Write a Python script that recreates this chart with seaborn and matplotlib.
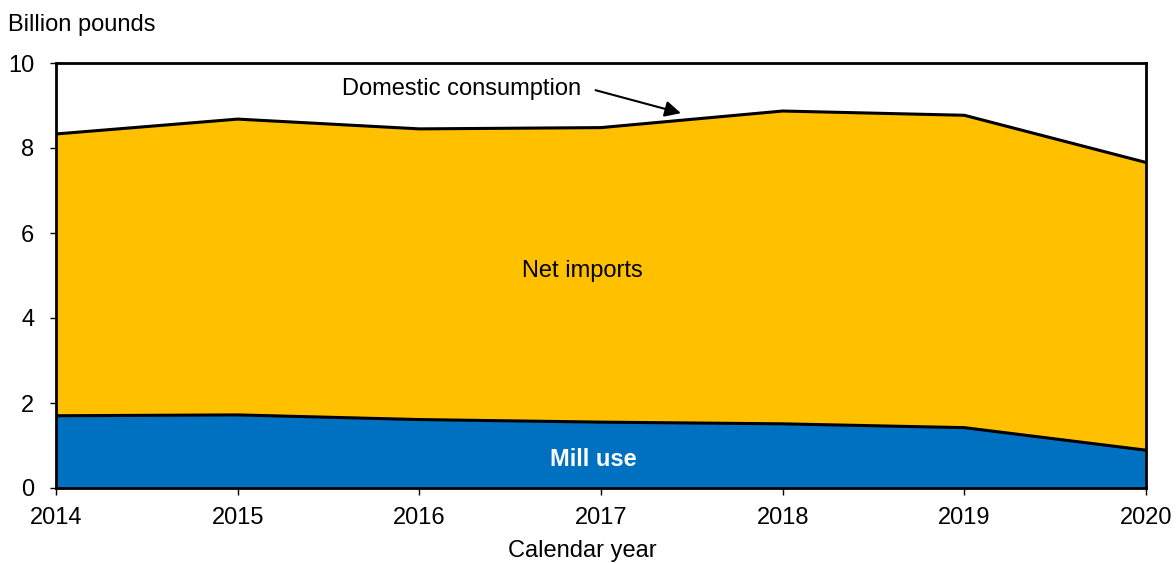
import matplotlib
matplotlib.use("Agg")
import matplotlib.pyplot as plt
import seaborn as sns
import pandas as pd

# Cotton supply by calendar year (billion pounds)
years = [2014, 2015, 2016, 2017, 2018, 2019, 2020]
mill_use = [1.70, 1.72, 1.61, 1.55, 1.51, 1.42, 0.89]
domestic_consumption = [8.33, 8.68, 8.45, 8.48, 8.87, 8.77, 7.66]
net_imports = [round(t - m, 2) for t, m in zip(domestic_consumption, mill_use)]

df = pd.DataFrame({"year": years, "mill_use": mill_use, "net_imports": net_imports})
df["total"] = df["mill_use"] + df["net_imports"]

sns.set_theme(style="white")
plt.rcParams["font.family"] = ["Liberation Sans", "DejaVu Sans"]

BLUE = "#0070C0"
GOLD = "#FFC000"
FS = 17

fig = plt.figure(figsize=(11.76, 5.63), dpi=100)
ax = fig.add_axes([56 / 1176, 1 - 488 / 563, (1146 - 56) / 1176, (488 - 63) / 563])

ax.fill_between(df["year"], 0, df["mill_use"], color=BLUE, linewidth=0, zorder=1)
ax.fill_between(df["year"], df["mill_use"], df["total"], color=GOLD, linewidth=0, zorder=1)
sns.lineplot(data=df, x="year", y="mill_use", color="black", linewidth=2.2, ax=ax, zorder=3)
sns.lineplot(data=df, x="year", y="total", color="black", linewidth=2.2, ax=ax, zorder=3)

ax.set_xlim(2014, 2020)
ax.set_ylim(0, 10)
ax.set_xticks(years)
ax.set_xticklabels([str(y) for y in years])
ax.set_yticks([0, 2, 4, 6, 8, 10])
ax.set_xlabel("")
ax.set_ylabel("")
ax.tick_params(axis="both", direction="inout", width=1, color="black",
               labelsize=FS, labelcolor="black", bottom=True, left=True)
ax.tick_params(axis="x", length=10, pad=9)
ax.tick_params(axis="y", length=9, pad=11)
for side in ["left", "right", "top", "bottom"]:
    ax.spines[side].set_color("black")
    ax.spines[side].set_linewidth(2)
    ax.spines[side].set_zorder(4)

ax.text(2016.9, 5.1, "Net imports", fontsize=FS, color="black", ha="center", va="center")
ax.text(2016.96, 0.68, "Mill use", fontsize=FS, color="white", fontweight="bold",
        ha="center", va="center")
ax.text(2016.23, 9.4, "Domestic consumption", fontsize=FS, color="black",
        ha="center", va="center")
ax.annotate("", xy=(2017.44, 8.82), xytext=(2016.97, 9.36),
            arrowprops=dict(arrowstyle="-|>", color="black", lw=1.5,
                            mutation_scale=24, shrinkA=0, shrinkB=0))

fig.text(8 / 1176, 1 - 25 / 563, "Billion pounds", fontsize=FS, color="black",
         ha="left", va="center")
fig.text(582 / 1176, 1 - 551 / 563, "Calendar year", fontsize=FS, color="black",
         ha="center", va="center")

fig.savefig("out.png", dpi=100)
